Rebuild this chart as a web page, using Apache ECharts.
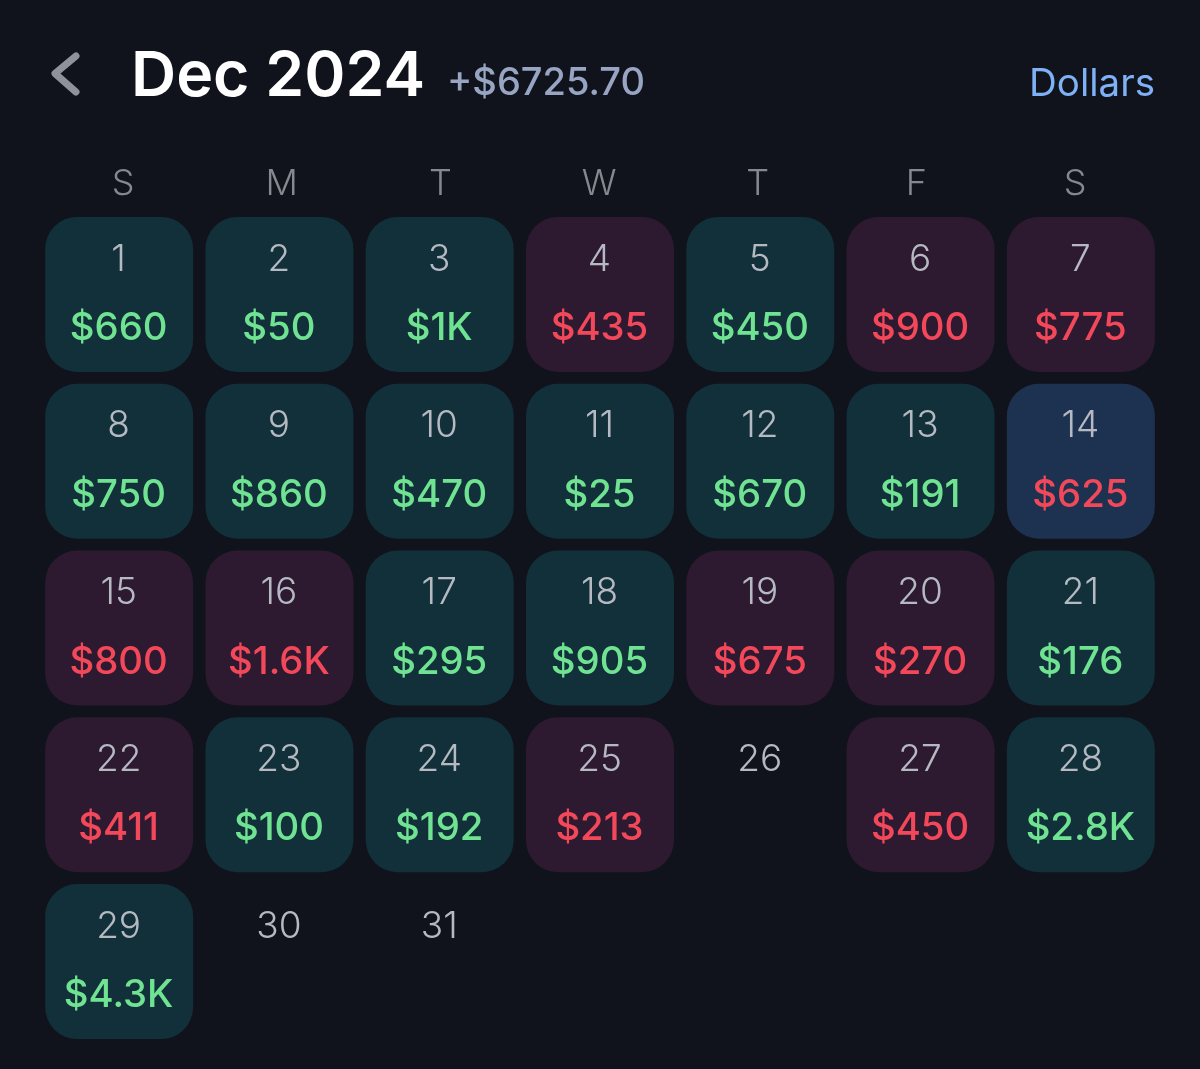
<!DOCTYPE html>
<html>
<head>
<meta charset="utf-8">
<title>Dec 2024</title>
<script src="https://cdn.jsdelivr.net/npm/echarts@6/dist/echarts.min.js"></script>
<style>
  html, body { margin: 0; padding: 0; background: #10131b; }
  #main { width: 1200px; height: 1069px; }
</style>
</head>
<body>
<div id="main"></div>
<script>
const monthLabel = 'Dec 2024';
const monthTotal = '+$6725.70';
const currencyLabel = 'Dollars';
const weekdays = ['S', 'M', 'T', 'W', 'T', 'F', 'S'];
const weekRows = ['w1', 'w2', 'w3', 'w4', 'w5'];
const currentDay = 14;

// profit per day of the month, index 0 = the 1st, null = no trades
const dailyPnl = [
  660, 50, 1000, -435, 450, -900, -775,
  750, 860, 470, 25, 670, 191, -625,
  -800, -1600, 295, 905, -675, -270, 176,
  -411, 100, 192, -213, null, -450, 2800,
  4300, null, null
];

const fontName = 'Inter, "Noto Sans", sans-serif';
const cellW = 148;
const cellH = 155;

function formatMoney(v) {
  const abs = Math.abs(v);
  if (abs >= 1000) return '$' + (abs / 1000) + 'K';
  return '$' + abs;
}

function cellColor(day, v) {
  if (day === currentDay) return '#1c3250';
  return v > 0 ? '#12303a' : '#2d1a30';
}

// the 1st falls on the Sunday column, so rows fill straight through
const cells = dailyPnl.map((v, i) => [i % 7, Math.floor(i / 7), i + 1, v]);

function renderDay(params, api) {
  const center = api.coord([api.value(0), api.value(1)]);
  const day = api.value(2);
  const v = dailyPnl[day - 1];
  const top = center[1] - cellH / 2;
  const children = [];
  if (v !== null) {
    children.push({
      type: 'rect',
      shape: { x: center[0] - cellW / 2, y: top, width: cellW, height: cellH, r: 32 },
      style: { fill: cellColor(day, v) }
    });
  }
  children.push({
    type: 'text',
    style: {
      x: center[0] - 0.5, y: top + 42.5, text: String(day),
      fill: '#b5b9c2', font: '300 37px ' + fontName,
      align: 'center', verticalAlign: 'middle'
    }
  });
  if (v !== null) {
    children.push({
      type: 'text',
      style: {
        x: center[0] - 0.5, y: top + 111.5, text: formatMoney(v),
        fill: v > 0 ? '#6fe391' : '#f2485a', font: '500 38.3px ' + fontName,
        align: 'center', verticalAlign: 'middle'
      }
    });
  }
  return { type: 'group', children: children };
}

const chart = echarts.init(document.getElementById('main'));
chart.setOption({
  backgroundColor: '#10131b',
  animation: false,
  title: [
    { text: monthLabel, left: 131, top: 46, textStyle: { color: '#ffffff', fontFamily: fontName, fontSize: 62.5, fontWeight: 600 }, padding: 0 },
    { text: monthTotal, left: 447, top: 65, textStyle: { color: '#97a4c2', fontFamily: fontName, fontSize: 38, fontWeight: 500 }, padding: 0 },
    { text: currencyLabel, right: 45, top: 65, textStyle: { color: '#7fb1f7', fontFamily: fontName, fontSize: 38.5, fontWeight: 400 }, padding: 0 }
  ],
  graphic: [{
    type: 'polyline',
    shape: { points: [[76, 56], [55, 73.5], [76, 92]] },
    style: { stroke: '#8e929b', lineWidth: 7, lineCap: 'round', lineJoin: 'round', fill: null }
  }],
  grid: [
    { left: 39, top: 211, width: 1122, height: 834 },
    { left: 43.7, top: 211, width: 1110.7, height: 1 }
  ],
  xAxis: [
    { type: 'category', gridIndex: 0, data: weekdays, show: false },
    {
      type: 'category', gridIndex: 1, data: weekdays, position: 'top',
      axisLine: { show: false }, axisTick: { show: false },
      axisLabel: { color: '#85888f', fontFamily: fontName, fontSize: 36, fontWeight: 300, margin: 9, interval: 0 }
    }
  ],
  yAxis: [
    { type: 'category', gridIndex: 0, data: weekRows, inverse: true, show: false },
    { type: 'value', gridIndex: 1, show: false }
  ],
  series: [{
    type: 'custom',
    xAxisIndex: 0,
    yAxisIndex: 0,
    renderItem: renderDay,
    data: cells,
    clip: false
  }]
});
</script>
</body>
</html>
